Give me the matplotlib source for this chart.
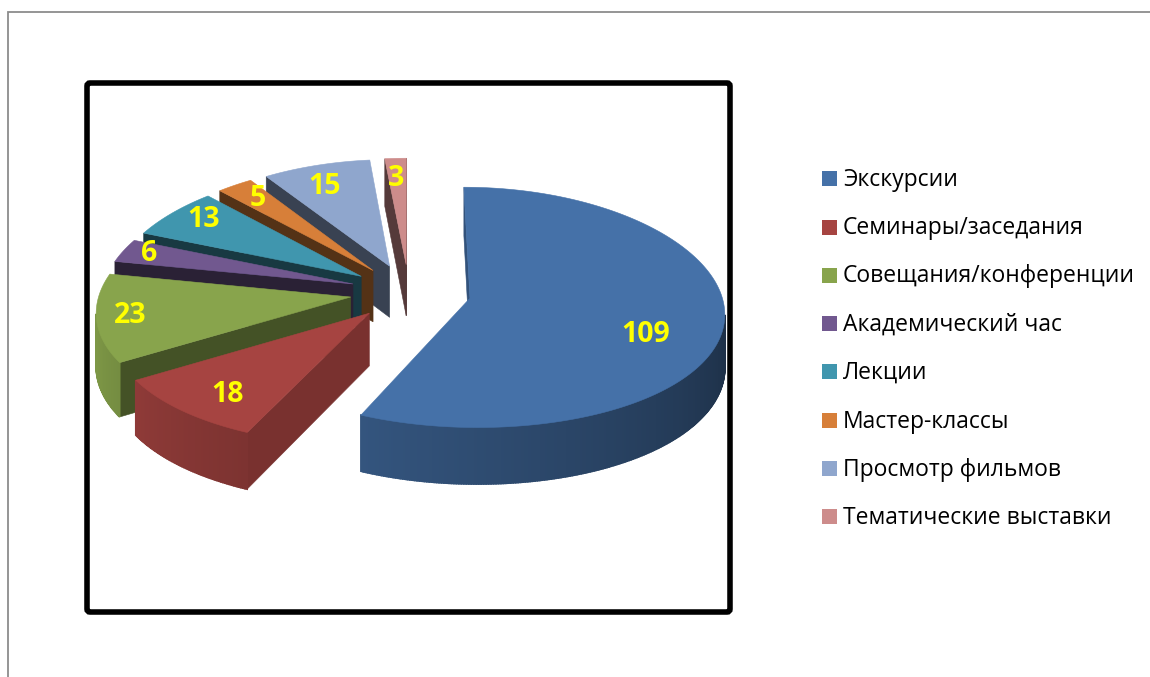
import numpy as np
import matplotlib
matplotlib.use('Agg')
import matplotlib.pyplot as plt
from matplotlib.patches import Polygon, Rectangle, FancyBboxPatch

plt.rcParams['font.family'] = ['Open Sans', 'DejaVu Sans']

#chart data
categories = ['Экскурсии', 'Семинары/заседания', 'Совещания/конференции', 'Академический час',
              'Лекции', 'Мастер-классы', 'Просмотр фильмов', 'Тематические выставки']
values = [109, 18, 23, 6, 13, 5, 15, 3]
colors = ['#4571a8', '#a64441', '#88a44c', '#71588f', '#4096ae', '#d77f39', '#8fa6cd', '#cd8c8b']

#how far each slice is pulled out
explode = [0.247, 0.235, 0.235, 0.235, 0.235, 0.235, 0.235, 0.235]

#label radius as a share of the slice radius, and its turn from the slice middle (degrees)
label_r = [0.73, 0.81, 0.87, 0.89, 0.85, 0.83, 0.785, 0.795]
label_turn = [11.9, -3, 0, 0.5, 2, 0.5, -2, -0.5]

#projection settings
cx, cy = 409, 292
rx, ry = 251, 118.5
persp_x = 0.11
persp_y = 0.076
depth = 52


def project(X, Y, drop=0.0):
    sx = 1 / (1 + persp_x * Y)
    sy = 1 / (1 + persp_y * Y)
    return cx + rx * X * sx, cy - ry * Y * sy + drop * depth * sy


def shade(color, f):
    return tuple(c * f for c in matplotlib.colors.to_rgb(color))


def wall_factor(t):
    return np.clip(0.42 + (t - 100) / 104 * 0.33, 0.42, 0.92)


def face_factor(t):
    return np.interp(t, [204, 238, 281, 360], [0.73, 0.5, 0.37, 0.42])


def add_quad(ax, pts, col, lw=0.4):
    #only faces turned to the viewer get drawn
    x = [p[0] for p in pts]
    y = [p[1] for p in pts]
    area = 0.5 * sum(x[i] * y[(i + 1) % 4] - x[(i + 1) % 4] * y[i] for i in range(4))
    if area < 0:
        ax.add_patch(Polygon(pts, closed=True, fc=col, ec=col, lw=lw))


fig = plt.figure(figsize=(11.5, 6.77), dpi=100)
ax = fig.add_axes([0, 0, 1, 1])
ax.set_xlim(0, 1150)
ax.set_ylim(677, 0)
ax.axis('off')

#outer grey border
ax.plot([8, 8, 1150], [677, 12, 12], color='#8c8c8c', lw=1.3, solid_joinstyle='miter')
#black frame of the plot area
ax.add_patch(FancyBboxPatch((87, 83), 643, 529, boxstyle='round,pad=0,rounding_size=3',
                            fc='white', ec='black', lw=4))

edges = np.cumsum([0] + values) / sum(values) * 360

#back slices first, the big one last
for i in range(len(values) - 1, -1, -1):
    t0, t1 = edges[i], edges[i + 1]
    mid = (t0 + t1) / 2
    m = np.radians(mid)
    ox, oy = explode[i] * np.sin(m), explode[i] * np.cos(m)
    ts = np.linspace(t0, t1, max(int(t1 - t0) * 2, 6))
    X = ox + np.sin(np.radians(ts))
    Y = oy + np.cos(np.radians(ts))

    #radial faces
    for t in (t0, t1):
        a = np.radians(t)
        ex, ey = ox + np.sin(a), oy + np.cos(a)
        face = [project(ox, oy), project(ex, ey), project(ex, ey, 1), project(ox, oy, 1)]
        if t == t1:
            face = face[::-1]
        add_quad(ax, face, shade(colors[i], face_factor(t0)))

    #outer wall, one strip per step
    for j in range(len(ts) - 1):
        q = [project(X[j], Y[j]), project(X[j + 1], Y[j + 1]),
             project(X[j + 1], Y[j + 1], 1), project(X[j], Y[j], 1)]
        add_quad(ax, q, shade(colors[i], wall_factor((ts[j] + ts[j + 1]) / 2)), lw=1.2)

    #top
    top = [project(ox, oy)] + [project(a, b) for a, b in zip(X, Y)]
    ax.add_patch(Polygon(top, closed=True, fc=colors[i], ec=colors[i], lw=0.4))

    #value label
    la = np.radians(mid + label_turn[i])
    lx, ly = project(ox + label_r[i] * np.sin(la), oy + label_r[i] * np.cos(la))
    ax.text(lx, ly, str(values[i]), color='#ffff00', fontsize=20.5, fontweight='bold',
            ha='center', va='center', zorder=10)

#legend
leg_y = [178, 227, 275, 323, 371, 420, 468, 516]
for name, col, y in zip(categories, colors, leg_y):
    ax.add_patch(Rectangle((822, y - 7), 15, 15, fc=col, ec='none'))
    ax.text(843, y + 1.5, name, fontsize=16.5, color='black', va='center', ha='left')

fig.savefig('out.png', dpi=100)
